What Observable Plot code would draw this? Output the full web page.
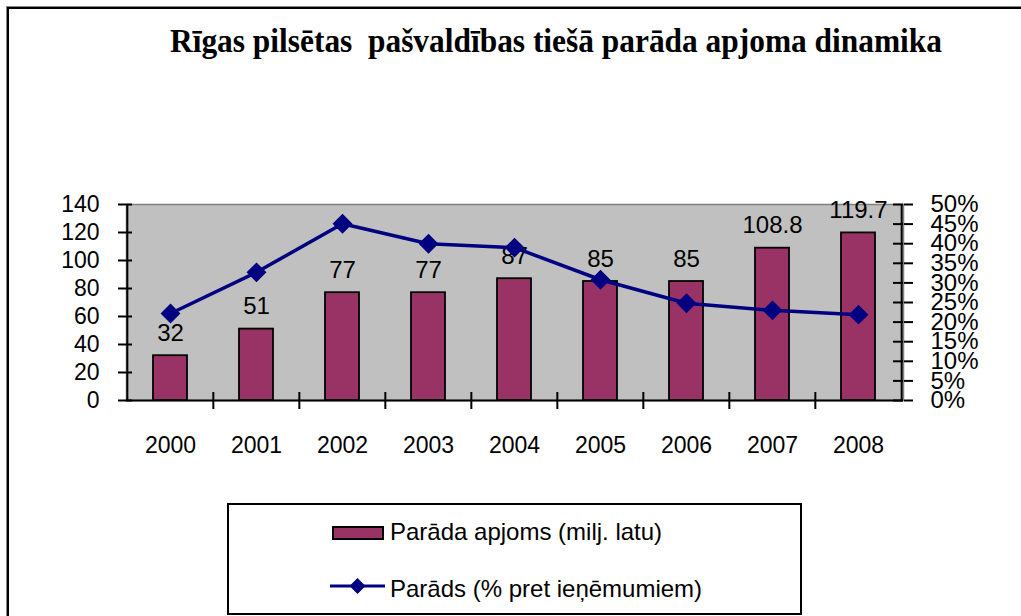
<!DOCTYPE html>
<html>
<head>
<meta charset="utf-8">
<script src="https://cdn.jsdelivr.net/npm/d3@7"></script>
<script src="https://cdn.jsdelivr.net/npm/@observablehq/plot@0.6"></script>
<style>
  html, body { margin: 0; padding: 0; background: #fff; }
  #wrap { position: relative; width: 1021px; height: 616px; overflow: hidden; background: #fff; font-family: "Liberation Sans", Arial, sans-serif; }
  #border { position: absolute; left: 7px; top: 7px; width: 1100px; height: 700px; border-left: 2px solid #000; border-top: 2px solid #000; box-shadow: -1px -1px 0 #888; }
  #title { position: absolute; top: 22px; left: 0; white-space: pre; font-family: "Liberation Serif", "Times New Roman", serif; font-weight: bold; font-size: 34px; color: #000; transform-origin: 0 0; }
  #chart { position: absolute; left: 0; top: 0; }
  #legend { position: absolute; left: 227px; top: 503px; width: 571px; height: 108px; border: 2px solid #000; background: #fff; }
  .item { position: absolute; font-size: 24px; color: #000; white-space: pre; }
</style>
</head>
<body>
<div id="wrap">
  <div id="border"></div>
  <div id="chart"></div>
  <div id="title"></div>
  <div id="legend"></div>
</div>
<script>
// ---- data ----
const titleText = "Rīgas pilsētas  pašvaldības tiešā parāda apjoma dinamika";
const years = ["2000", "2001", "2002", "2003", "2004", "2005", "2006", "2007", "2008"];
const debt = [32, 51, 77, 77, 87, 85, 85, 108.8, 119.7];
const debtLabels = ["32", "51", "77", "77", "87", "85", "85", "108.8", "119.7"];
const debtPct = [22.2, 32.7, 45.1, 40.0, 39.0, 30.8, 24.8, 23.0, 21.9];
const leftTicks = [0, 20, 40, 60, 80, 100, 120, 140];
const rightTicks = [0, 5, 10, 15, 20, 25, 30, 35, 40, 45, 50];
const rightTickLabels = ["0%", "5%", "10%", "15%", "20%", "25%", "30%", "35%", "40%", "45%", "50%"];
const seriesNames = ["Parāda apjoms (milj. latu)", "Parāds (% pret ieņēmumiem)"];

// ---- layout ----
const W = 1021, H = 470;
const mL = 126, mR = 118, mT = 204, mB = 70;
const frameW = W - mL - mR, frameH = H - mT - mB;
const step = frameW / years.length;
const leftMax = 140, rightMax = 50, k = leftMax / rightMax;

const rows = years.map((y, i) => ({ year: y, debt: debt[i], label: debtLabels[i], pct: debtPct[i] }));

const chart = Plot.plot({
  width: W, height: H,
  marginLeft: mL, marginRight: mR, marginTop: mT, marginBottom: mB,
  style: { fontFamily: "'Liberation Sans', Arial, sans-serif", fontSize: "23px", background: "transparent", overflow: "visible", color: "#000" },
  x: { type: "band", domain: years, paddingInner: 0.6, paddingOuter: 0.3, label: null },
  y: { domain: [0, leftMax], label: null },
  marks: [
    Plot.frame({ fill: "#c0c0c0", stroke: "#808080", strokeWidth: 1.5 }),
    Plot.barY(rows, { x: "year", y: "debt", fill: "#993366", stroke: "#000", strokeWidth: 1.8 }),
    Plot.text(rows, { x: "year", y: "debt", text: "label", dy: -15, lineAnchor: "bottom", fontSize: 24, fill: "#000" }),
    Plot.lineY(rows, { x: "year", y: d => d.pct * k, stroke: "#000080", strokeWidth: 3.5 }),
    Plot.dot(rows, { x: "year", y: d => d.pct * k, symbol: "diamond2", r: 8, fill: "#000080", stroke: "#000080" }),
    // axis lines
    Plot.ruleY([0], { stroke: "#000", strokeWidth: 2 }),
    Plot.ruleX([years[0]], { x: d => d, dx: -step / 2, stroke: "#000", strokeWidth: 2 }),
    Plot.ruleX([years[years.length - 1]], { x: d => d, dx: step / 2, stroke: "#000", strokeWidth: 2 }),
    // category boundary ticks (crossing the x axis)
    Plot.ruleX(years.slice(1), { x: d => d, dx: -step / 2, insetTop: frameH - 8, insetBottom: -9, stroke: "#000", strokeWidth: 2 }),
    // inward part of left ticks
    Plot.ruleY(leftTicks, { y: d => d, insetRight: frameW - 6, stroke: "#000", strokeWidth: 2 }),
    // inward part of right ticks
    Plot.ruleY(rightTicks, { y: d => d * k, insetLeft: frameW - 10, stroke: "#000", strokeWidth: 2 }),
    Plot.axisY({ anchor: "left", label: null, ticks: leftTicks, tickSize: 8, tickPadding: 19, fontSize: 23, strokeWidth: 2 }),
    Plot.axisY({ anchor: "right", label: null, ticks: rightTicks.map(v => v * k), tickFormat: (d) => rightTickLabels[rightTicks.indexOf(Math.round(d / k))], tickSize: 9, tickPadding: 18, fontSize: 24, strokeWidth: 2 }),
    Plot.axisX({ anchor: "bottom", label: null, tickSize: 0, tickPadding: 36, fontSize: 23 })
  ]
});
document.getElementById("chart").appendChild(chart);

// ---- title ----
const t = document.getElementById("title");
t.textContent = titleText;
const tw = t.getBoundingClientRect().width;
const targetW = 772;
t.style.left = (556 - targetW / 2) + "px";
t.style.transform = `scaleX(${targetW / tw})`;

// ---- legend ----
const lg = document.getElementById("legend");
const ns = "http://www.w3.org/2000/svg";
function mk(tag, attrs) { const e = document.createElementNS(ns, tag); for (const a in attrs) e.setAttribute(a, attrs[a]); return e; }
const sv = mk("svg", { width: 571, height: 108, style: "position:absolute;left:0;top:0" });
sv.appendChild(mk("rect", { x: 104, y: 22, width: 50, height: 12, fill: "#993366", stroke: "#000", "stroke-width": 2 }));
sv.appendChild(mk("line", { x1: 101, x2: 156, y1: 81, y2: 81, stroke: "#000080", "stroke-width": 3 }));
sv.appendChild(mk("path", { d: "M128.5,73 L136.5,81 L128.5,89 L120.5,81 Z", fill: "#000080" }));
lg.appendChild(sv);
seriesNames.forEach((name, i) => {
  const d = document.createElement("div");
  d.className = "item";
  d.textContent = name;
  d.style.left = "161px";
  d.style.top = (i === 0 ? 13 : 70) + "px";
  lg.appendChild(d);
});
</script>
</body>
</html>
